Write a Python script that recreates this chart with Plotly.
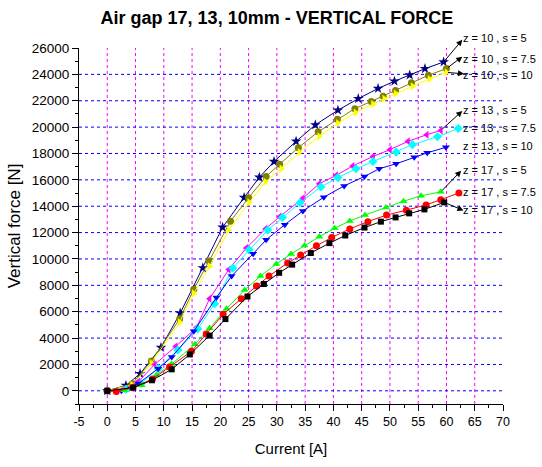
import plotly.graph_objects as go

# ---- data ----
x_z10_s5 = [0, 3.3, 5.8, 9.5, 12.9, 16.9, 20.4, 24.2, 26.9, 29.5, 33.4, 36.8, 40.8, 44.4, 47.9, 50.8, 53.5, 56.2, 59.5]
y_z10_s5 = [0, 400, 1300, 3280, 5890, 9320, 12400, 14660, 16190, 17390, 18920, 20170, 21280, 22160, 22930, 23480, 23950, 24430, 24940]

x_z10_s75 = [0, 4.4, 7.8, 12.8, 15.3, 18.0, 21.8, 25.0, 28.1, 30.5, 33.8, 37.3, 40.7, 43.8, 46.7, 48.8, 51.0, 53.8, 56.8, 60.0]
y_z10_s75 = [0, 530, 2260, 5440, 7700, 9850, 12860, 14640, 16260, 17190, 18440, 19650, 20600, 21400, 21950, 22350, 22780, 23360, 23930, 24440]

x_z10_s10 = [0, 4.4, 7.8, 12.8, 15.3, 18.1, 21.5, 25.1, 28.0, 30.8, 34.0, 37.5, 40.8, 43.9, 47.0, 49.0, 51.0, 54.0, 57.0, 60.0]
y_z10_s10 = [0, 450, 2100, 5200, 7400, 9450, 12200, 14290, 15850, 16850, 18100, 19300, 20300, 21100, 21750, 22150, 22550, 23100, 23650, 24150]

x_z13_s5 = [0, 3.0, 5.5, 8.4, 12.1, 15.8, 18.1, 21.5, 24.6, 28.0, 30.5, 34.6, 37.5, 40.5, 43.4, 47.0, 50.0, 53.2, 56.5, 59.0]
y_z13_s5 = [0, 150, 700, 2000, 3360, 4810, 6990, 9200, 10830, 12280, 13210, 14600, 15710, 16340, 17050, 17770, 18290, 18920, 19420, 19750]

x_z13_s75 = [0, 3.3, 6.0, 9.0, 12.5, 16.0, 19.0, 22.2, 25.1, 28.4, 31.0, 34.1, 37.8, 40.8, 44.0, 47.0, 51.1, 54.0, 58.4, 62.1]
y_z13_s75 = [0, 100, 550, 1700, 3100, 4700, 6600, 9320, 10700, 12200, 13140, 14260, 15470, 16170, 16840, 17390, 18100, 18670, 19270, 19900]

x_z13_s10 = [0, 2.5, 5.5, 9.0, 11.4, 15.3, 19.3, 22.0, 25.8, 28.1, 31.4, 34.6, 38.3, 41.9, 45.5, 48.1, 51.1, 54.3, 56.6, 59.9]
y_z13_s10 = [0, 0, 550, 1680, 2560, 4510, 7070, 8700, 10400, 11450, 12600, 13640, 14680, 15540, 16260, 16840, 17220, 17720, 18050, 18470]

x_z17_s5 = [0, 3.0, 6.1, 8.7, 11.4, 15.5, 18.1, 21.1, 24.3, 27.1, 29.9, 32.5, 34.9, 37.5, 40.2, 42.9, 45.6, 49.3, 52.4, 55.5, 59.0]
y_z17_s5 = [0, 50, 430, 1200, 2030, 3530, 4740, 6220, 7650, 8700, 9620, 10380, 11030, 11680, 12330, 12880, 13330, 13900, 14380, 14790, 15090]

x_z17_s75 = [0, 1.6, 4.5, 8.0, 11.0, 14.9, 17.5, 20.5, 23.7, 26.4, 28.6, 31.9, 34.2, 37.0, 39.7, 42.9, 46.1, 49.4, 52.9, 56.4, 59.0, 62.2]
y_z17_s75 = [0, -50, 230, 900, 1800, 3000, 4300, 5800, 6990, 7950, 8700, 9700, 10300, 11000, 11630, 12280, 12830, 13330, 13700, 14100, 14500, 15000]

x_z17_s10 = [0, 4.6, 7.9, 11.4, 14.6, 18.1, 20.9, 24.8, 27.7, 30.4, 32.7, 36.0, 39.3, 42.1, 45.5, 48.4, 51.0, 53.4, 56.1, 59.6]
y_z17_s10 = [0, 250, 800, 1630, 2760, 4190, 5440, 7150, 8100, 8950, 9570, 10450, 11200, 11780, 12380, 12830, 13150, 13460, 13760, 14290]

labels = ["z = 10 , s = 5", "z = 10 , s = 7.5", "z = 10 , s = 10",
          "z = 13 , s = 5", "z = 13 , s = 7.5", "z = 13 , s = 10",
          "z = 17 , s = 5", "z = 17 , s = 7.5", "z = 17 , s = 10"]

x_tick_vals = list(range(-5, 71, 5))
x_tick_text = [str(v) for v in x_tick_vals]
x_grid = list(range(0, 66, 5))
y_grid = list(range(0, 24001, 2000))
Y_MIN, Y_MAX = -1000, 26000
X_MIN, X_MAX = -5, 70

series = [
    (x_z10_s5, y_z10_s5, "#000080", "star", 8),
    (x_z10_s75, y_z10_s75, "#808000", "circle", 7),
    (x_z10_s10, y_z10_s10, "#FFFF00", "triangle-right", 7),
    (x_z13_s5, y_z13_s5, "#FF00FF", "triangle-left", 7),
    (x_z13_s75, y_z13_s75, "#00FFFF", "diamond", 7),
    (x_z13_s10, y_z13_s10, "#0000FF", "triangle-down", 7),
    (x_z17_s5, y_z17_s5, "#00FF00", "triangle-up", 7),
    (x_z17_s75, y_z17_s75, "#FF0000", "circle", 7),
    (x_z17_s10, y_z17_s10, "#000000", "square", 6),
]

fig = go.Figure()
for (xs, ys, col, sym, sz), name in zip(series, labels):
    fig.add_trace(go.Scatter(x=xs, y=ys, mode="lines+markers", name=name,
                             line=dict(color=col, width=1),
                             marker=dict(symbol=sym, size=sz, color=col,
                                         line=dict(width=0))))

shapes = []
for gx in x_grid:
    shapes.append(dict(type="line", xref="x", yref="y", x0=gx, x1=gx, y0=Y_MIN, y1=Y_MAX,
                       line=dict(color="#FF00FF", width=1, dash="dot"), layer="below"))
for gy in y_grid:
    shapes.append(dict(type="line", xref="x", yref="y", x0=X_MIN, x1=X_MAX, y0=gy, y1=gy,
                       line=dict(color="#0000FF", width=1, dash="dot"), layer="below"))


def px_(v):
    return (v - X_MIN) / (X_MAX - X_MIN)


def py_(v):
    return (v - Y_MIN) / (Y_MAX - Y_MIN)


# label positions (data units, placed via paper coords so they are never hidden)
label_x = 62.8
label_y = [26740, 25170, 23930, 21280, 19900, 18590, 16770, 15110, 13680]
annotations = []
for txt, ly in zip(labels, label_y):
    annotations.append(dict(x=px_(label_x), y=py_(ly), xref="paper", yref="paper", text=txt,
                            showarrow=False, xanchor="left", yanchor="middle", borderpad=0,
                            font=dict(family="Liberation Sans, Arial", size=11, color="black")))

arrows = [
    ((x_z10_s5[-1], y_z10_s5[-1]), (62.8, 26620)),
    ((x_z10_s75[-1], y_z10_s75[-1]), (62.8, 25340)),
    ((x_z10_s10[-1], y_z10_s10[-1]), (63.1, 24040)),
    ((x_z13_s5[-1], y_z13_s5[-1]), (62.8, 21230)),
    ((x_z17_s5[-1], y_z17_s5[-1]), (62.6, 16690)),
    ((x_z17_s10[-1], y_z17_s10[-1]), (63.0, 13680)),
]
for (tx, ty), (hx, hy) in arrows:
    annotations.append(dict(x=hx, y=hy, ax=tx, ay=ty, xref="x", yref="y", axref="x", ayref="y",
                            text="", showarrow=True, arrowhead=2, arrowsize=1.2, arrowwidth=1,
                            arrowcolor="black", standoff=0, startstandoff=0))

fig.update_layout(
    width=542, height=467,
    margin=dict(l=79, r=39, t=48, b=60),
    paper_bgcolor="white", plot_bgcolor="white",
    showlegend=False,
    font=dict(family="Liberation Sans, Arial", size=12, color="black"),
    title=dict(text="<b>Air gap 17, 13, 10mm - VERTICAL FORCE</b>", x=0.511, xanchor="center",
               y=0.962, yanchor="middle",
               font=dict(family="Liberation Sans, Arial", size=18, color="black")),
    shapes=shapes,
    annotations=annotations,
)
fig.update_xaxes(range=[X_MIN, X_MAX], tickmode="array", tickvals=x_tick_vals, ticktext=x_tick_text,
                 ticks="outside", ticklen=6, tickcolor="black", showgrid=False, zeroline=False,
                 showline=True, linecolor="black", linewidth=1,
                 minor=dict(ticks="outside", ticklen=3, tickcolor="black", tickmode="linear",
                            tick0=-5, dtick=2.5, showgrid=False),
                 tickfont=dict(size=12.5),
                 title=dict(text="Current [A]", font=dict(size=15), standoff=15))
fig.update_yaxes(range=[Y_MIN, Y_MAX], tickmode="linear", tick0=0, dtick=2000, tickformat="d",
                 ticks="outside", ticklen=6, tickcolor="black", showgrid=False, zeroline=False,
                 showline=True, linecolor="black", linewidth=1,
                 minor=dict(ticks="outside", ticklen=3, tickcolor="black", tickmode="linear",
                            tick0=0, dtick=1000, showgrid=False),
                 tickfont=dict(size=13.5),
                 title=dict(text="Vertical force [N]", font=dict(size=17), standoff=6))

fig.write_html("out.html")
